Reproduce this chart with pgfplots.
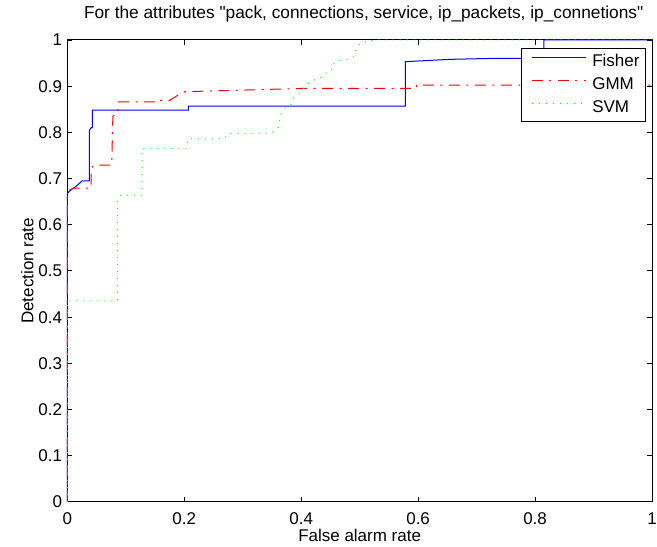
\documentclass[border=0pt]{standalone}
\usepackage{fontspec}
\setmainfont{Liberation Sans}[Ligatures=TeXOff]
\usepackage{pgfplots}
\pgfplotsset{compat=1.18}
\usetikzlibrary{calc}
\begin{document}
\begin{tikzpicture}
\begin{axis}[
  width=585pt, height=462pt, scale only axis,
  xmin=0, xmax=1, ymin=0, ymax=1,
  clip=false,
  xtick={0,0.2,0.4,0.6,0.8,1},
  xticklabels={0,0.2,0.4,0.6,0.8,1},
  ytick={0,0.1,0.2,0.3,0.4,0.5,0.6,0.7,0.8,0.9,1},
  yticklabels={0,0.1,0.2,0.3,0.4,0.5,0.6,0.7,0.8,0.9,1},
  tick align=inside,
  major tick length=5pt,
  tick style={black, line width=0.8pt},
  axis line style={black, line width=1pt},
  every tick label/.append style={font=\fontsize{17}{20}\selectfont, inner sep=0pt},
  xticklabel style={anchor=base, yshift=-23pt},
  yticklabel style={anchor=base east, xshift=-5pt, yshift=-6pt},
  title={For the attributes "pack, connections, service, ip\_packets, ip\_connetions"},
  title style={at={(axis description cs:0.5,1.0346)}, anchor=base, font=\fontsize{17.3}{20}\selectfont, inner sep=0pt, xshift=4pt},
  xlabel={False alarm rate},
  xlabel style={at={(axis description cs:0.5,-0.0866)}, anchor=base, font=\fontsize{17}{20}\selectfont, inner sep=0pt},
  ylabel={Detection rate},
  ylabel style={at={(axis description cs:-0.0581,0.5)}, anchor=base, font=\fontsize{17}{20}\selectfont, inner sep=0pt},
  legend style={at={(axis description cs:0.9897,0.9827)}, anchor=north east,
    draw=black, line width=1pt, fill=white,
    font=\fontsize{17}{20}\selectfont,
    inner xsep=6pt, inner ysep=6pt,
    row sep=7.8pt, column sep=0pt,
    nodes={inner sep=0pt, text height=12pt, text depth=3pt},
    cells={anchor=west}},
  legend image code/.code={\path (0pt,0pt) (64pt,0pt); \draw[#1] (4pt,4.5pt) -- (58pt,4.5pt);},
]
\addplot[blue, line width=1pt] coordinates {
(0,0) (0,0.668) (0.0034,0.672) (0.008,0.677) (0.014,0.682) (0.023,0.692) (0.025,0.695)
(0.038,0.695) (0.038,0.805) (0.041,0.81) (0.043,0.81) (0.043,0.848) (0.207,0.848)
(0.207,0.857) (0.578,0.857) (0.578,0.953) (0.654,0.958) (0.722,0.96) (0.815,0.96)
(0.815,1) (1,1)};
\addlegendentry{Fisher}
\addplot[red, line width=1pt, dash pattern=on 11pt off 6.5pt on 2pt off 6.5pt] coordinates {
(0,0) (0,0.665) (0.004,0.675) (0.01,0.679) (0.041,0.679) (0.041,0.72) (0.045,0.729)
(0.076,0.729) (0.078,0.835) (0.086,0.84) (0.088,0.866) (0.153,0.866) (0.153,0.869)
(0.175,0.869) (0.181,0.874) (0.19,0.881) (0.201,0.888) (0.4,0.895) (0.597,0.895)
(0.597,0.902) (1,0.902)};
\addlegendentry{GMM}
\addplot[green, line width=1pt, dash pattern=on 1pt off 6pt] coordinates {
(0,0) (0,0.435) (0.086,0.435) (0.086,0.65) (0.092,0.664) (0.128,0.664) (0.128,0.765)
(0.204,0.765) (0.206,0.786) (0.267,0.786) (0.278,0.798) (0.349,0.798) (0.361,0.811)
(0.363,0.827) (0.366,0.841) (0.372,0.852) (0.383,0.861) (0.387,0.874) (0.395,0.881)
(0.402,0.892) (0.415,0.91) (0.435,0.919) (0.442,0.928) (0.452,0.935) (0.453,0.947)
(0.463,0.955) (0.486,0.959) (0.492,0.968) (0.494,0.982) (0.5,0.991) (0.51,0.996)
(0.52,0.999) (0.53,1) (1,1)};
\addlegendentry{SVM}
\end{axis}
\pgfresetboundingbox
\path ($(current axis.south west)+(-67.3pt,-45pt)$) rectangle ($(current axis.north east)+(5pt,40pt)$);
\end{tikzpicture}
\end{document}
